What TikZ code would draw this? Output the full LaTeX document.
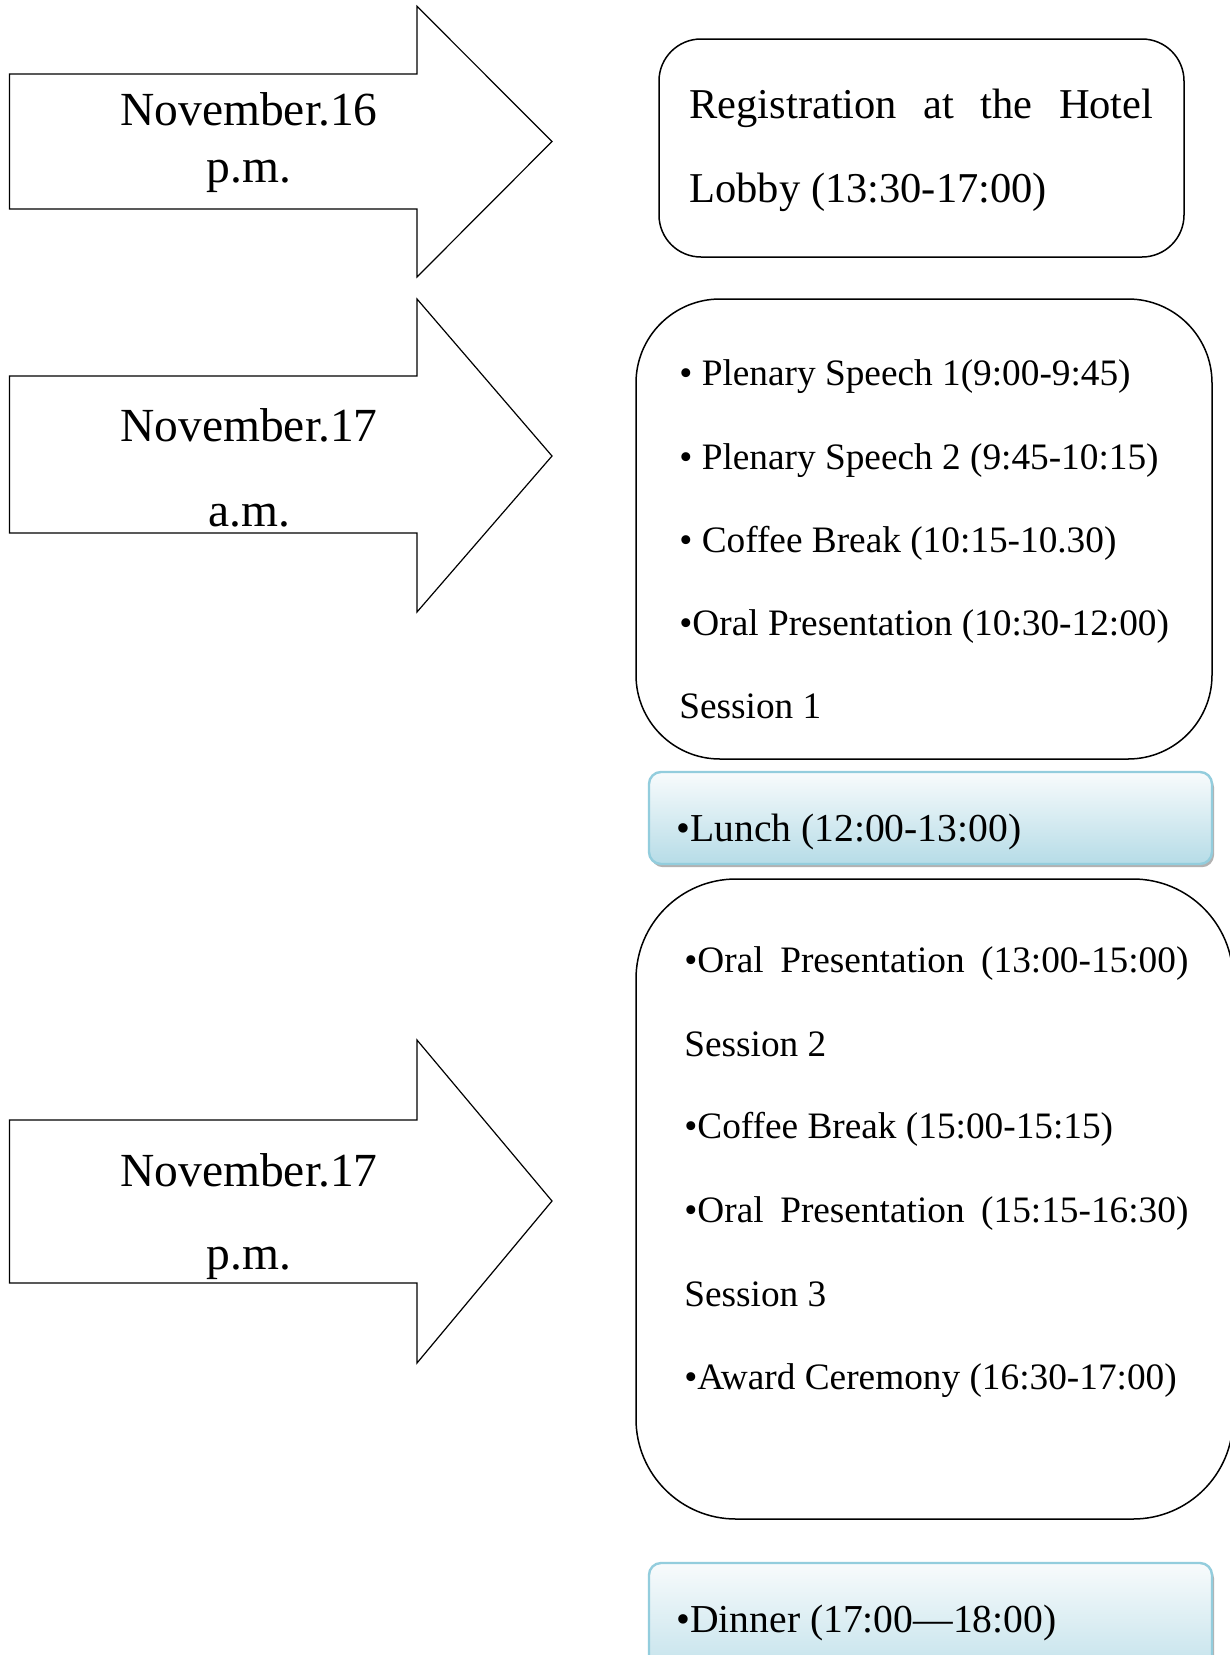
\documentclass[tikz,border=0pt]{standalone}
\usepackage{fontspec}
\setmainfont{Liberation Serif}
\usetikzlibrary{shadows}
\definecolor{mealborder}{HTML}{93CDDD}
\definecolor{mealtop}{HTML}{F8FBFC}
\definecolor{mealbot}{HTML}{B6DCE7}
\begin{document}
\begin{tikzpicture}[x=0.5pt,y=-0.5pt,
  bigarrow/.style={draw=black, line width=0.6pt, fill=white, line join=miter},
  sched/.style={draw=black, line width=0.75pt, fill=white},
  meal/.style={draw=mealborder, line width=1.2pt, top color=mealtop, bottom color=mealbot,
    rounded corners=6pt, drop shadow={shadow xshift=1pt, shadow yshift=-1.6pt, fill=black!50, opacity=0.6}},
  datetxt/.style={anchor=base, font=\fontsize{23.75}{28}\selectfont, inner sep=0pt},
  regtxt/.style={anchor=base west, font=\fontsize{21.25}{25}\selectfont, inner sep=0pt},
  itemtxt/.style={anchor=base west, font=\fontsize{18.65}{22}\selectfont, inner sep=0pt},
  mealtxt/.style={anchor=base west, font=\fontsize{19.8}{23}\selectfont, inner sep=0pt}
]
\useasboundingbox (0,0) rectangle (1230,1655);
\fill[white] (0,0) rectangle (1230,1655);
\clip (0,0) rectangle (1230,1655);

% arrows
\draw[bigarrow] (9.5,74) -- (417,74) -- (417,6.3) -- (552,141.5) -- (417,277) -- (417,209) -- (9.5,209) -- cycle;
\draw[bigarrow] (9.5,376) -- (417,376) -- (417,299) -- (552,456) -- (417,612) -- (417,533) -- (9.5,533) -- cycle;
\draw[bigarrow] (9.5,1120) -- (417,1120) -- (417,1040) -- (552,1201) -- (417,1363) -- (417,1283) -- (9.5,1283) -- cycle;

\node[datetxt] (d1) at (249,125) {November.16};
\node[datetxt] (t1) at (249,182) {p.m.};
\node[datetxt] (d2) at (249,441) {November.17};
\node[datetxt] (t2) at (249,526) {a.m.};
\node[datetxt] (d3) at (249,1186) {November.17};
\node[datetxt] (t3) at (249,1269) {p.m.};

% boxes
\draw[sched, rounded corners=21pt] (659,39) rectangle (1184,257);
\draw[sched, rounded corners=42pt] (636,299) rectangle (1212,759);
\draw[meal] (649,772) rectangle (1212,864);
\draw[sched, rounded corners=50pt] (636,879) rectangle (1233,1519);
\draw[meal] (649,1563) rectangle (1212,1700);

% box 1 text
\node[regtxt] (r1) at (689,118) {\makebox[232pt][s]{Registration at the Hotel}};
\node[regtxt] (r2) at (689,202) {Lobby (13:30-17:00)};

% box 2 text
\node[itemtxt] (a1) at (679,385) {• Plenary Speech 1(9:00-9:45)};
\node[itemtxt] (a2) at (679,469) {• Plenary Speech 2 (9:45-10:15)};
\node[itemtxt] (a3) at (679,552) {• Coffee Break (10:15-10.30)};
\node[itemtxt] (a4) at (679,635) {•Oral Presentation (10:30-12:00)};
\node[itemtxt] (a5) at (679,718) {Session 1};

\node[mealtxt] (lunch) at (676,841) {•Lunch (12:00-13:00)};

% box 3 text
\node[itemtxt] (p1) at (684,972) {\makebox[252pt][s]{•Oral Presentation (13:00-15:00)}};
\node[itemtxt] (p2) at (684,1056) {Session 2};
\node[itemtxt] (p3) at (684,1138) {•Coffee Break (15:00-15:15)};
\node[itemtxt] (p4) at (684,1222) {\makebox[252pt][s]{•Oral Presentation (15:15-16:30)}};
\node[itemtxt] (p5) at (684,1306) {Session 3};
\node[itemtxt] (p6) at (684,1389) {•Award Ceremony (16:30-17:00)};

\node[mealtxt] (dinner) at (676,1632) {•Dinner (17:00—18:00)};
\end{tikzpicture}
\end{document}
